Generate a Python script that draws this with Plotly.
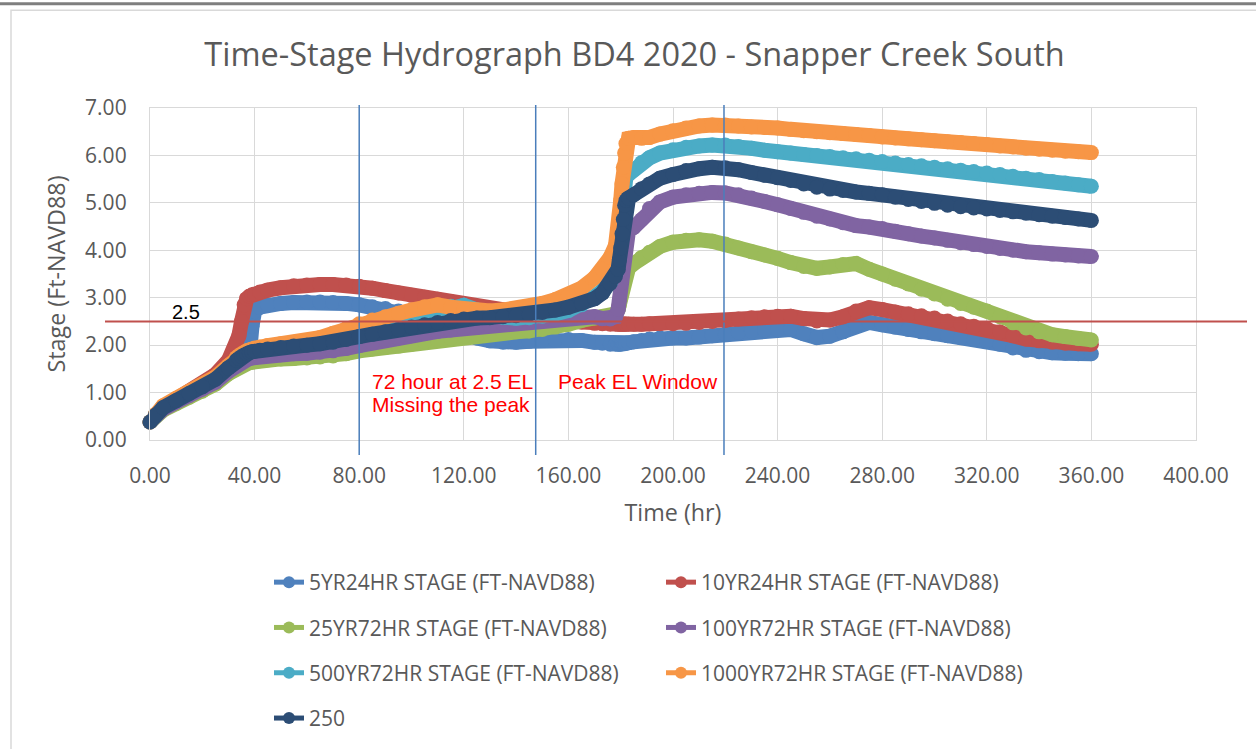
import plotly.graph_objects as go

# Time axis (hours) shared by every stage series
TIME_HR = [
    0, 2, 5, 10, 15, 20, 25, 30,
    33, 34, 35, 36, 37, 38, 39, 40,
    42, 45, 50, 55, 60, 65, 70, 75, 80, 85,
    90, 95, 100, 105, 110, 115, 120, 125, 130, 135,
    140, 145, 150, 155, 160, 165, 170, 173, 176, 178,
    179, 179.5, 180, 180.5, 181, 181.5, 182, 183, 185, 188,
    191, 195, 200, 205, 210, 215, 220, 225, 230, 235,
    240, 245, 250, 255, 260, 265, 270, 275, 280, 285,
    290, 295, 300, 305, 310, 315, 320, 325, 330, 335,
    340, 345, 350, 355, 360,
]

STAGE_5YR24HR = [
    0.38, 0.52, 0.68, 0.84, 0.99, 1.13, 1.29, 1.50,
    1.64, 1.67, 1.70, 1.72, 1.74, 1.80, 2.40, 2.72,
    2.80, 2.85, 2.88, 2.90, 2.91, 2.91, 2.90, 2.88, 2.85, 2.81,
    2.77, 2.72, 2.62, 2.50, 2.40, 2.30, 2.22, 2.15, 2.09, 2.06,
    2.06, 2.08, 2.10, 2.11, 2.12, 2.10, 2.06, 2.04, 2.02, 2.02,
    2.02, 2.02, 2.02, 2.03, 2.03, 2.03, 2.04, 2.05, 2.07, 2.10,
    2.13, 2.15, 2.15, 2.15, 2.17, 2.20, 2.23, 2.27, 2.30, 2.32,
    2.33, 2.33, 2.24, 2.16, 2.19, 2.28, 2.42, 2.48, 2.43, 2.38,
    2.33, 2.28, 2.24, 2.20, 2.16, 2.12, 2.09, 2.02, 1.94, 1.89,
    1.86, 1.84, 1.83, 1.82, 1.82,
]

STAGE_10YR24HR = [
    0.38, 0.52, 0.70, 0.86, 1.02, 1.18, 1.38, 1.68,
    2.00, 2.20, 2.50, 2.85, 2.98, 3.03, 3.06, 3.08,
    3.12, 3.16, 3.21, 3.25, 3.27, 3.28, 3.28, 3.27, 3.24, 3.20,
    3.15, 3.10, 3.05, 3.01, 2.97, 2.92, 2.87, 2.82, 2.77, 2.72,
    2.68, 2.64, 2.60, 2.56, 2.52, 2.49, 2.46, 2.45, 2.44, 2.44,
    2.44, 2.44, 2.44, 2.44, 2.44, 2.44, 2.44, 2.44, 2.44, 2.44,
    2.45, 2.45, 2.45, 2.46, 2.48, 2.50, 2.52, 2.55, 2.58, 2.60,
    2.61, 2.61, 2.56, 2.51, 2.53, 2.60, 2.72, 2.79, 2.75, 2.70,
    2.66, 2.62, 2.57, 2.51, 2.45, 2.40, 2.35, 2.28, 2.20, 2.13,
    2.09, 2.06, 2.04, 2.03, 2.02,
]

STAGE_25YR72HR = [
    0.38, 0.49, 0.63, 0.77, 0.90, 1.03, 1.18, 1.40,
    1.52, 1.55, 1.58, 1.60, 1.62, 1.63, 1.64, 1.65,
    1.67, 1.69, 1.71, 1.72, 1.73, 1.75, 1.77, 1.82, 1.88, 1.92,
    1.95, 1.98, 2.02, 2.07, 2.11, 2.15, 2.19, 2.22, 2.24, 2.26,
    2.28, 2.30, 2.33, 2.38, 2.44, 2.52, 2.57, 2.60, 2.62, 2.66,
    2.75, 2.85, 3.00, 3.20, 3.40, 3.52, 3.58, 3.63, 3.72, 3.85,
    3.96, 4.08, 4.17, 4.21, 4.22, 4.19, 4.13, 4.05, 3.97, 3.90,
    3.83, 3.74, 3.66, 3.62, 3.65, 3.70, 3.72, 3.60, 3.50, 3.39,
    3.29, 3.18, 3.08, 2.97, 2.88, 2.80, 2.72, 2.60, 2.47, 2.36,
    2.28, 2.22, 2.18, 2.14, 2.11,
]

STAGE_100YR72HR = [
    0.38, 0.50, 0.65, 0.80, 0.94, 1.07, 1.22, 1.45,
    1.58, 1.62, 1.65, 1.68, 1.70, 1.72, 1.73, 1.74,
    1.76, 1.78, 1.80, 1.82, 1.83, 1.85, 1.88, 1.93, 1.99, 2.05,
    2.10, 2.15, 2.20, 2.25, 2.29, 2.32, 2.35, 2.38, 2.42, 2.45,
    2.47, 2.49, 2.51, 2.54, 2.57, 2.60, 2.60, 2.56, 2.55, 2.60,
    2.75, 2.95, 3.30, 3.70, 4.05, 4.30, 4.38, 4.42, 4.48, 4.65,
    4.88, 5.02, 5.12, 5.17, 5.20, 5.22, 5.21, 5.17, 5.10, 5.03,
    4.96, 4.88, 4.80, 4.72, 4.66, 4.58, 4.52, 4.49, 4.46, 4.40,
    4.35, 4.30, 4.26, 4.21, 4.16, 4.12, 4.08, 4.04, 4.00, 3.97,
    3.95, 3.92, 3.90, 3.88, 3.87,
]

STAGE_500YR72HR = [
    0.38, 0.53, 0.70, 0.86, 1.00, 1.15, 1.30, 1.54,
    1.71, 1.75, 1.79, 1.82, 1.85, 1.87, 1.89, 1.90,
    1.92, 1.95, 1.99, 2.02, 2.05, 2.09, 2.14, 2.20, 2.27, 2.35,
    2.43, 2.52, 2.60, 2.68, 2.76, 2.82, 2.84, 2.74, 2.64, 2.59,
    2.57, 2.58, 2.61, 2.66, 2.73, 2.85, 3.02, 3.15, 3.32, 3.55,
    3.80, 4.10, 4.50, 4.90, 5.25, 5.45, 5.55, 5.60, 5.70, 5.85,
    5.95, 6.05, 6.12, 6.17, 6.20, 6.22, 6.22, 6.19, 6.15, 6.11,
    6.08, 6.05, 6.02, 6.00, 5.98, 5.95, 5.93, 5.90, 5.87, 5.84,
    5.81, 5.78, 5.75, 5.72, 5.69, 5.66, 5.63, 5.60, 5.56, 5.52,
    5.49, 5.45, 5.42, 5.38, 5.35,
]

STAGE_1000YR72HR = [
    0.38, 0.54, 0.72, 0.88, 1.03, 1.17, 1.33, 1.57,
    1.74, 1.78, 1.82, 1.85, 1.88, 1.90, 1.92, 1.94,
    1.96, 1.99, 2.03, 2.06, 2.10, 2.16, 2.25, 2.35, 2.45, 2.53,
    2.60, 2.67, 2.74, 2.81, 2.85, 2.80, 2.76, 2.73, 2.72, 2.74,
    2.77, 2.82, 2.88, 2.96, 3.05, 3.20, 3.42, 3.60, 3.85, 4.10,
    4.40, 4.70, 5.05, 5.40, 5.75, 6.05, 6.25, 6.36, 6.38, 6.36,
    6.38, 6.45, 6.52, 6.58, 6.62, 6.64, 6.64, 6.62, 6.60, 6.59,
    6.58, 6.55, 6.52, 6.50, 6.48, 6.46, 6.44, 6.42, 6.39, 6.37,
    6.35, 6.33, 6.31, 6.29, 6.27, 6.25, 6.23, 6.20, 6.18, 6.15,
    6.13, 6.11, 6.09, 6.08, 6.06,
]

STAGE_250 = [
    0.38, 0.52, 0.68, 0.83, 0.98, 1.12, 1.28, 1.52,
    1.68, 1.72, 1.76, 1.79, 1.82, 1.84, 1.86, 1.87,
    1.89, 1.92, 1.95, 1.98, 2.00, 2.03, 2.06, 2.12, 2.18, 2.23,
    2.28, 2.33, 2.38, 2.43, 2.48, 2.52, 2.55, 2.57, 2.58, 2.60,
    2.62, 2.65, 2.69, 2.74, 2.80, 2.88, 2.98, 3.10, 3.30, 3.45,
    3.60, 3.80, 4.05, 4.35, 4.65, 4.95, 5.05, 5.10, 5.17, 5.30,
    5.40, 5.52, 5.60, 5.68, 5.72, 5.75, 5.74, 5.70, 5.64, 5.58,
    5.53, 5.47, 5.40, 5.33, 5.29, 5.26, 5.23, 5.20, 5.17, 5.12,
    5.07, 5.03, 4.99, 4.95, 4.92, 4.89, 4.87, 4.84, 4.81, 4.78,
    4.75, 4.72, 4.69, 4.66, 4.63,
]

SERIES_NAMES = [
    "5YR24HR STAGE (FT-NAVD88)",
    "10YR24HR STAGE (FT-NAVD88)",
    "25YR72HR STAGE (FT-NAVD88)",
    "100YR72HR STAGE (FT-NAVD88)",
    "500YR72HR STAGE (FT-NAVD88)",
    "1000YR72HR STAGE (FT-NAVD88)",
    "250",
]
SERIES_VALUES = [
    STAGE_5YR24HR, STAGE_10YR24HR, STAGE_25YR72HR, STAGE_100YR72HR,
    STAGE_500YR72HR, STAGE_1000YR72HR, STAGE_250,
]
SERIES_COLORS = [
    "#4F81BD", "#C0504D", "#9BBB59", "#8064A2", "#4BACC6", "#F79646", "#2C4D75",
]
# legend column for each series (row-major, two columns)
LEGEND_COLUMN = ["legend", "legend2", "legend", "legend2", "legend", "legend2", "legend"]

THRESHOLD_STAGE = 2.5
WINDOW_LINES_HR = [80, 147.5, 219.5]

# page geometry in pixels
W, H = 1256, 749
ML, MR, MT, MB = 150, 60, 108, 308
PW = W - ML - MR
PH = H - MT - MB


def paper_x(px):
    return (px - ML) / PW


def paper_y(py):
    return (H - MB - py) / PH


fig = go.Figure()

for name, vals, color in zip(SERIES_NAMES, SERIES_VALUES, SERIES_COLORS):
    fig.add_trace(go.Scatter(
        x=TIME_HR, y=vals, name=name, mode="lines+markers",
        line=dict(color=color, width=15),
        marker=dict(color=color, size=15, line=dict(width=0)),
        showlegend=False, cliponaxis=False, hoverinfo="x+y+name",
    ))

# legend entries (thin line + dot, like the spreadsheet legend)
for i, (name, color, lg) in enumerate(zip(SERIES_NAMES, SERIES_COLORS, LEGEND_COLUMN)):
    fig.add_trace(go.Scatter(
        x=[None], y=[None], name=name, mode="lines+markers",
        line=dict(color=color, width=5), marker=dict(color=color, size=12),
        legend=lg, legendgroup=f"g{i}", showlegend=True,
    ))

shapes = []
for t in WINDOW_LINES_HR:
    shapes.append(dict(type="line", xref="x", yref="paper", x0=t, x1=t,
                       y0=paper_y(456), y1=paper_y(105),
                       line=dict(color="#4A7EBB", width=1.5), layer="above"))
shapes.append(dict(type="line", xref="paper", yref="y",
                   x0=paper_x(105), x1=paper_x(1247), y0=THRESHOLD_STAGE, y1=THRESHOLD_STAGE,
                   line=dict(color="#C0504D", width=2), layer="above"))
# chart frame and page rule
shapes.append(dict(type="rect", xref="paper", yref="paper",
                   x0=paper_x(11), x1=paper_x(1270), y0=paper_y(10), y1=paper_y(770),
                   line=dict(color="#D9D9D9", width=1.5), layer="below"))
shapes.append(dict(type="line", xref="paper", yref="paper",
                   x0=paper_x(0), x1=paper_x(1256), y0=paper_y(3.5), y1=paper_y(3.5),
                   line=dict(color="#7F7F7F", width=3)))

red_font = dict(family="Liberation Sans, Arial", size=21, color="#FF0000")
annotations = [
    dict(text="2.5", x=13.8, y=2.69, xref="x", yref="y", showarrow=False,
         font=dict(family="Liberation Sans, Arial", size=20, color="#000000")),
    dict(text="72 hour at 2.5 EL", x=84.1, y=1.24, xref="x", yref="y", xanchor="left",
         showarrow=False, font=red_font),
    dict(text="Missing the peak", x=84.1, y=0.74, xref="x", yref="y", xanchor="left",
         showarrow=False, font=red_font),
    dict(text="Peak EL Window", x=155.3, y=1.24, xref="x", yref="y", xanchor="left",
         showarrow=False, font=red_font),
]

axis_common = dict(
    showgrid=True, gridcolor="#D9D9D9", gridwidth=1.3, zeroline=False,
    showline=True, linecolor="#D9D9D9", linewidth=1.3, mirror=True,
    ticks="", tickformat=".2f", tickfont=dict(size=21, color="#595959"),
)

legend_common = dict(
    xanchor="left", yanchor="top", orientation="v",
    font=dict(size=21, color="#595959", family="Open Sans"),
    bgcolor="rgba(0,0,0,0)", tracegroupgap=15,
)

fig.update_layout(
    width=W, height=H,
    margin=dict(l=ML, r=MR, t=MT, b=MB),
    paper_bgcolor="white", plot_bgcolor="white",
    font=dict(family="Open Sans", color="#595959"),
    title=dict(text="Time-Stage Hydrograph BD4 2020 - Snapper Creek South",
               x=634.5 / W, xref="container", xanchor="center",
               y=1 - 55 / H, yref="container", yanchor="middle",
               font=dict(size=32.5, color="#595959", family="Open Sans")),
    xaxis=dict(range=[0, 400], dtick=40, tick0=0, ticklabelstandoff=17,
               title=dict(text="Time (hr)", font=dict(size=23.3, color="#595959"), standoff=16),
               **axis_common),
    yaxis=dict(range=[0, 7], dtick=1, tick0=0, ticklabelstandoff=18,
               title=dict(text="Stage (Ft-NAVD88)", font=dict(size=23.3, color="#595959"), standoff=12),
               **axis_common),
    legend=dict(x=paper_x(269), y=paper_y(562), **legend_common),
    legend2=dict(x=paper_x(661), y=paper_y(562), **legend_common),
    shapes=shapes,
    annotations=annotations,
    hovermode="closest",
)

fig.write_html("out.html")
